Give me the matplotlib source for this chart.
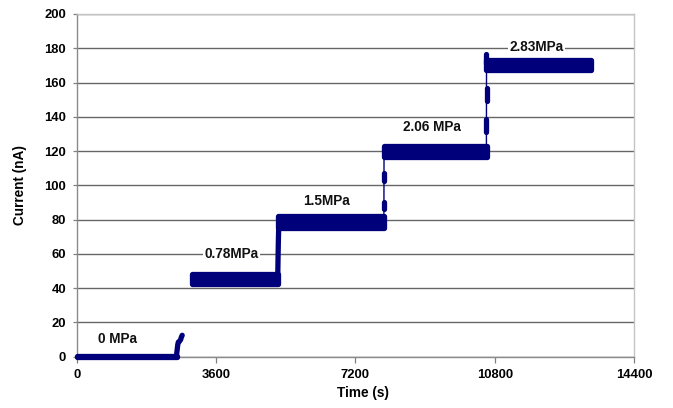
import matplotlib
matplotlib.use("Agg")
import matplotlib.pyplot as plt
from matplotlib import font_manager as fm

# ---- data ----
x_ticks = [0, 3600, 7200, 10800, 14400]
y_ticks = [0, 20, 40, 60, 80, 100, 120, 140, 160, 180, 200]

# plateaus (time range, current band low/high)
plateau_start = [0, 2980, 5190, 7930, 10580]
plateau_end = [2590, 5190, 7940, 10590, 13280]
plateau_low = [0.0, 42.5, 75.0, 116.5, 167.5]
plateau_high = [0.3, 48.5, 82.0, 123.0, 173.0]

# thin connecting lines of the transitions
jump_t = [[7935, 7938], [10585, 10588]]
jump_I = [[82.0, 117.0], [123.0, 172.0]]

# thick rising parts of the trace
rise1_t = [2570, 2590, 2605, 2620, 2650, 2680, 2700, 2720]
rise1_I = [0.5, 4.0, 7.0, 8.5, 9.0, 10.0, 11.5, 12.5]
rise2_t = [5190, 5195, 5200, 5205, 5210, 5215, 5220]
rise2_I = [46.0, 53.0, 60.0, 66.0, 71.0, 75.0, 78.0]

# short thick clusters of points on the transitions
blob_t = [7936, 7938, 10586, 10589, 10585]
blob_lo = [86.0, 102.5, 131.0, 149.0, 171.0]
blob_hi = [90.5, 107.5, 139.0, 157.0, 176.5]

labels = ["0 MPa", "0.78MPa", "1.5MPa", "2.06 MPa", "2.83MPa"]
label_t = [1040, 3990, 6450, 9170, 11890]
label_I = [10.5, 60.0, 91.0, 134.0, 180.5]

color = "#00007a"

fp = fm.FontProperties(family="Liberation Sans", weight="bold",
                       stretch="normal", size=9.8)
fp_tick = fm.FontProperties(family="Liberation Sans", weight="bold",
                            stretch="normal", size=9.4)

fig = plt.figure(figsize=(6.73, 4.08), dpi=100)
ax = fig.add_axes([0.1144, 0.1257, 0.8276, 0.84])
ax.set_xlim(0, 14400)
ax.set_ylim(0, 200)

# grid
ax.set_axisbelow(True)
ax.yaxis.grid(True, color="#666666", linewidth=1.0)
ax.xaxis.grid(False)

# plateaus
for s, e, lo, hi in zip(plateau_start, plateau_end, plateau_low, plateau_high):
    ax.fill_between([s, e], [lo, lo], [hi, hi], color=color,
                    edgecolor=color, linewidth=3.8, joinstyle="round",
                    zorder=3, clip_on=False)

# thin transition lines
for t, I in zip(jump_t, jump_I):
    ax.plot(t, I, "-", color=color, linewidth=1.0, zorder=3)

# thick rises
for t, I in [(rise1_t, rise1_I), (rise2_t, rise2_I)]:
    ax.plot(t, I, "-", color=color, linewidth=3.8, zorder=3,
            solid_capstyle="round", solid_joinstyle="round")

# point clusters
ax.vlines(blob_t, blob_lo, blob_hi, color=color, linewidth=3.8,
          capstyle="round", zorder=3)

# labels
for txt, t, I in zip(labels, label_t, label_I):
    ax.text(t, I, txt, ha="center", va="center", fontproperties=fp,
            color="#111111",
            bbox=dict(facecolor="white", edgecolor="none", pad=1.0),
            zorder=4)

# axes styling
ax.set_xticks(x_ticks)
ax.set_yticks(y_ticks)
ax.set_xticklabels([str(v) for v in x_ticks], fontproperties=fp_tick)
ax.set_yticklabels([str(v) for v in y_ticks], fontproperties=fp_tick)
ax.tick_params(axis="x", direction="out", length=4, width=0.9,
               color="#808080", pad=5)
ax.tick_params(axis="y", direction="out", length=3, width=0.9,
               color="#808080", pad=5)

for side in ["left", "bottom"]:
    ax.spines[side].set_color("#8a8a8a")
    ax.spines[side].set_linewidth(1.0)
for side in ["right", "top"]:
    ax.spines[side].set_color("#c4c4c4")
    ax.spines[side].set_linewidth(1.0)

ax.set_ylabel("Current (nA)", fontproperties=fp)
ax.set_xlabel("Time (s)", fontproperties=fp)
ax.yaxis.set_label_coords(-0.09, 0.50)
ax.xaxis.set_label_coords(0.513, -0.0855)

fig.savefig("out.png", dpi=100)
